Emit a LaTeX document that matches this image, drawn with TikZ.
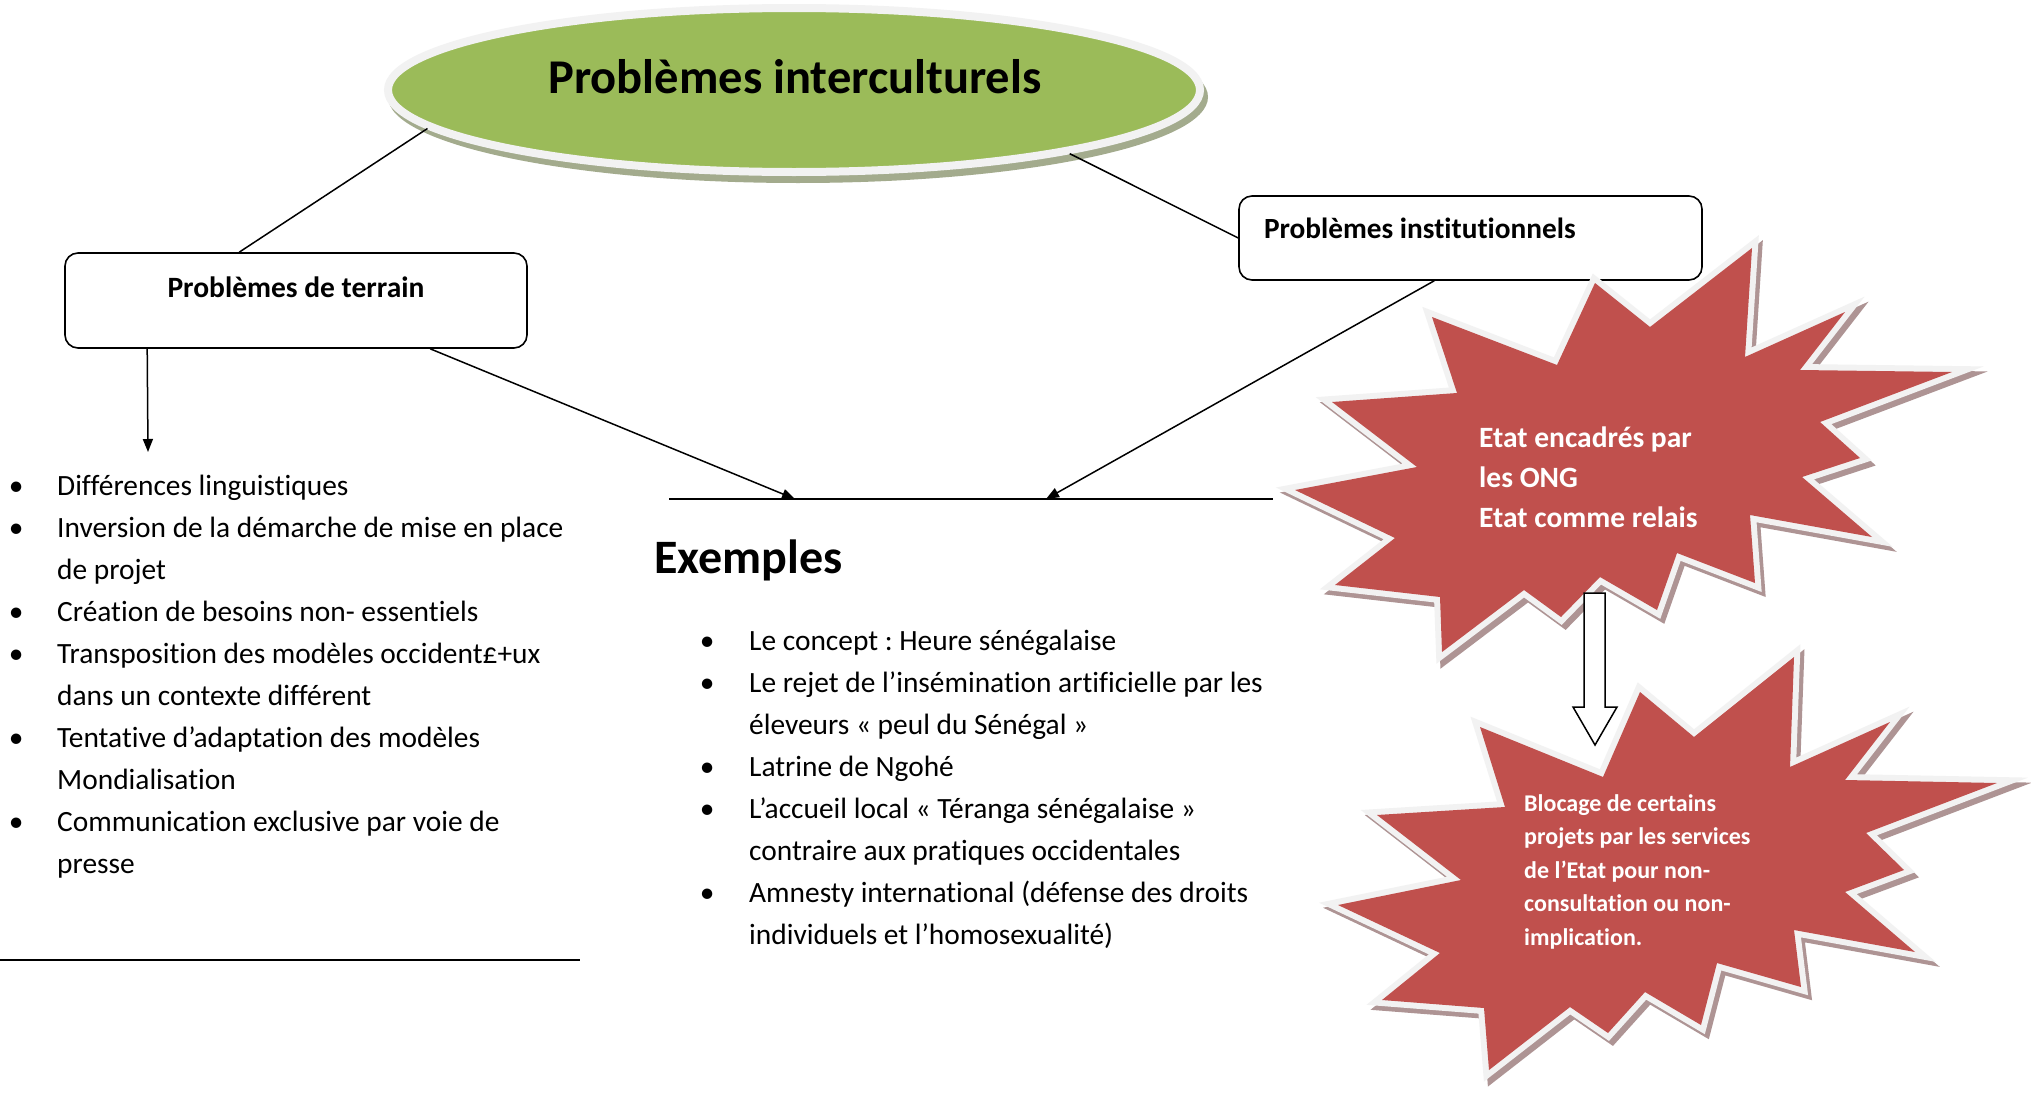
\documentclass[tikz,border=0pt]{standalone}
\usepackage{fontspec}
\setmainfont{Carlito}[Ligatures=NoCommon]
\usetikzlibrary{shapes.geometric,arrows.meta}
\definecolor{ellgreen}{HTML}{9BBB59}
\definecolor{ringgray}{HTML}{F2F2F2}
\definecolor{ellshadow}{HTML}{A3AB8D}
\definecolor{starred}{HTML}{C0504D}
\definecolor{starshadow}{HTML}{AE9494}
\frenchspacing
\newcommand{\bul}{\makebox[57pt][l]{\makebox[32pt][c]{\textbullet}}}
\newcommand{\cnt}{\makebox[57pt][l]{}}
\tikzset{
  conn/.style={line width=1.5pt, draw=black},
  arr/.style={conn, -{Triangle[length=13pt,width=10pt]}},
  probbox/.style={draw=black, line width=1.6pt, rounded corners=13pt, fill=white},
  listtext/.style={font=\fontsize{29.4}{42}\selectfont, inner sep=0pt, anchor=base west},
  startext/.style={text=white, inner sep=0pt, anchor=base west},
  starshape/.style={line width=12pt, line join=miter},
}
\def\starone{(1752,248) -- (1745,357) -- (1845,312) -- (1800,370) -- (1952,372) -- (1820,422) -- (1860,458) -- (1802,477) -- (1872,537) -- (1750,515) -- (1755,583) -- (1677,553) -- (1657,610) -- (1600,577) -- (1561,617) -- (1524,590) -- (1442,652) -- (1440,597) -- (1335,585) -- (1395,538) -- (1295,490) -- (1417,467) -- (1332,402) -- (1457,393) -- (1432,317) -- (1557,365) -- (1595,283) -- (1650,327) -- cycle}
\def\startwo{(1794,657) -- (1790,767) -- (1890,722) -- (1845,780) -- (1997,783) -- (1866,833) -- (1904,870) -- (1845,892) -- (1915,952) -- (1794,930) -- (1801,987) -- (1717,963) -- (1701,1025) -- (1645,992) -- (1608,1033) -- (1570,1007) -- (1489,1070) -- (1484,1008) -- (1382,1000) -- (1440,953) -- (1338,905) -- (1461,880) -- (1377,815) -- (1505,807) -- (1480,727) -- (1603,777) -- (1640,692) -- (1694,737) -- cycle}
\begin{document}
\begin{tikzpicture}[x=1pt,y=-1pt]
\fill[white] (0,0) rectangle (2031,1092);
\useasboundingbox (0,0) rectangle (2031,1092);

% main ellipse
\fill[ellshadow] (798,97) ellipse [x radius=410, y radius=86];
\node[ellipse, draw=ringgray, line width=8pt, fill=ellgreen, minimum width=812pt, minimum height=164pt, inner sep=0pt] (ell) at (794,90) {};
\node[font=\fontsize{48.5}{56}\selectfont\bfseries, inner sep=0pt, anchor=base] (title) at (795,93) {Problèmes interculturels};

% boxes
\node[probbox, minimum width=462pt, minimum height=95pt, inner sep=0pt, font=\fontsize{29.5}{34}\selectfont\bfseries, text height=20pt, text depth=27pt] (terrain) at (296,300.5) {Problèmes de terrain};
\node[probbox, minimum width=463pt, minimum height=84pt, inner xsep=25pt, inner ysep=0pt, font=\fontsize{29.3}{34}\selectfont\bfseries, text height=20pt, text depth=20pt] (inst) at (1470.5,238) {\makebox[413pt][l]{Problèmes institutionnels}};

% connectors from ellipse
\draw[conn] (ell.186) -- ([xshift=175pt]terrain.north west);
\draw[conn] (ell.-13.5) -- (inst.west);

% horizontal line and arrow ends
\coordinate (hlA) at (669,499);
\coordinate (hlB) at (1273,499);
\coordinate (tipA) at (795,499);
\coordinate (tipB) at (1046,499);
\coordinate (tipC) at (148,452);
\coordinate (blA) at (0,960);
\coordinate (blB) at (580,960);
\draw[conn] (hlA) -- (hlB);
\draw[conn] (blA) -- (blB);
\draw[arr] ([xshift=83pt]terrain.south west) -- (tipC);
\draw[arr] ([xshift=366pt]terrain.south west) -- (tipA);
\draw[arr] ([xshift=196pt]inst.south west) -- (tipB);

% left list
\node[listtext] (leftlist) at (0,495) {\begin{tabular}[t]{@{}l@{}}
\bul Différences linguistiques\\
\bul Inversion de la démarche de mise en place\\
\cnt de projet\\
\bul Création de besoins non- essentiels\\
\bul Transposition des modèles occident£+ux\\
\cnt dans un contexte différent\\
\bul Tentative d’adaptation des modèles\\
\cnt Mondialisation\\
\bul Communication exclusive par voie de\\
\cnt presse
\end{tabular}};

% examples
\node[font=\fontsize{48}{54}\selectfont\bfseries, inner sep=0pt, anchor=base west] (exemples) at (654,573) {Exemples};
\node[listtext] (midlist) at (691,650) {\begin{tabular}[t]{@{}l@{}}
\makebox[58pt][l]{\makebox[32pt][c]{\textbullet}}Le concept : Heure sénégalaise\\
\makebox[58pt][l]{\makebox[32pt][c]{\textbullet}}Le rejet de l’insémination artificielle par les\\
\makebox[58pt][l]{}éleveurs « peul du Sénégal »\\
\makebox[58pt][l]{\makebox[32pt][c]{\textbullet}}Latrine de Ngohé\\
\makebox[58pt][l]{\makebox[32pt][c]{\textbullet}}L’accueil local « Téranga sénégalaise »\\
\makebox[58pt][l]{}contraire aux pratiques occidentales\\
\makebox[58pt][l]{\makebox[32pt][c]{\textbullet}}Amnesty international (défense des droits\\
\makebox[58pt][l]{}individuels et l’homosexualité)
\end{tabular}};

% star 1
\filldraw[starshape, starshadow, shift={(4,5)}] \starone;
\filldraw[starshape, ringgray] \starone;
\fill[starred] \starone;
\node[startext, font=\fontsize{29.5}{40}\selectfont\bfseries] (startxt1) at (1479,447) {\begin{tabular}[t]{@{}l@{}}
Etat encadrés par\\
les ONG\\
Etat comme relais
\end{tabular}};

% star 2
\filldraw[starshape, starshadow, shift={(4,5)}] \startwo;
\filldraw[starshape, ringgray] \startwo;
\fill[starred] \startwo;
\node[startext, font=\fontsize{24}{33.5}\selectfont\bfseries] (startxt2) at (1524,811) {\begin{tabular}[t]{@{}l@{}}
Blocage de certains\\
projets par les services\\
de l’Etat pour non-\\
consultation ou non-\\
implication.
\end{tabular}};

% block arrow between stars
\draw[line width=1.5pt, fill=white, line join=miter] (1584,593) -- (1605,593) -- (1605,707) -- (1617,707) -- (1595,745) -- (1573,707) -- (1584,707) -- cycle;
\end{tikzpicture}
\end{document}
